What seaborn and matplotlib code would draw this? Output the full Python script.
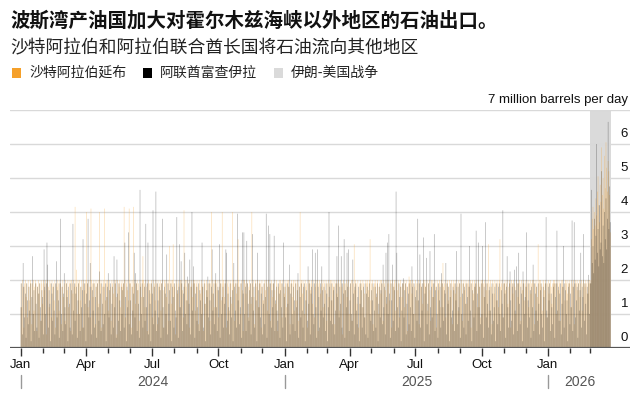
import numpy as np
import pandas as pd
import matplotlib.pyplot as plt
import seaborn as sns
from matplotlib.patches import Rectangle
from matplotlib.transforms import blended_transform_factory

# daily exports, million barrels per day, from 2024-01-01 (10 days per row)
start_date = '2024-01-01'
war_start = '2026-03-01'

yanbu = [
    1.9, 1.2, 2.0, 1.8, 0.6, 1.9, 2.0, 1.5, 1.9, 0.9,
    2.0, 1.8, 1.4, 2.0, 1.9, 0.7, 1.9, 2.0, 1.1, 1.8,
    2.0, 1.9, 0.5, 1.8, 2.0, 1.6, 1.9, 0.8, 2.0, 1.9,
    1.3, 2.0, 1.9, 1.7, 2.0, 0.4, 1.9, 2.0, 1.8, 1.2,
    2.0, 1.9, 0.9, 2.0, 1.8, 1.9, 1.4, 2.0, 0.6, 1.9,
    1.8, 2.0, 1.9, 1.1, 2.0, 1.9, 0.7, 1.8, 2.0, 1.5,
    1.9, 0.8, 2.0, 1.9, 1.7, 2.0, 1.2, 1.9, 2.0, 0.5,
    2.0, 1.9, 1.6, 2.0, 1.8, 4.15, 1.9, 2.3, 1.0, 2.0,
    1.9, 2.0, 1.4, 1.8, 2.0, 0.6, 1.9, 2.0, 1.7, 1.9,
    2.0, 4.0, 1.9, 1.2, 2.0, 1.8, 0.9, 4.1, 2.0, 1.9,
    1.5, 2.0, 1.9, 0.7, 2.0, 1.8, 1.9, 2.0, 1.3, 4.0,
    1.9, 2.0, 0.6, 1.8, 2.0, 1.9, 4.1, 1.4, 2.0, 1.9,
    2.0, 1.1, 1.9, 2.0, 1.8, 0.8, 2.0, 1.9, 1.6, 2.0,
    1.9, 2.0, 1.5, 0.4, 2.0, 1.9, 1.8, 2.0, 1.2, 1.9,
    2.0, 1.8, 1.9, 4.15, 2.0, 0.9, 1.9, 2.0, 1.7, 1.4,
    4.1, 2.0, 1.9, 0.6, 2.0, 1.8, 4.15, 1.9, 2.0, 1.3,
    1.9, 2.0, 1.7, 1.9, 0.8, 2.0, 1.9, 1.5, 2.0, 2.7,
    2.0, 1.9, 1.2, 2.0, 1.8, 0.5, 1.9, 2.0, 1.9, 1.6,
    1.9, 2.0, 0.9, 1.8, 2.0, 1.9, 1.4, 2.0, 1.9, 0.7,
    2.0, 1.8, 1.9, 2.0, 1.1, 1.9, 2.0, 1.7, 0.6, 2.0,
    1.9, 2.0, 1.5, 1.9, 2.0, 0.8, 3.0, 1.9, 2.0, 1.3,
    2.0, 3.05, 1.9, 1.8, 0.4, 2.0, 1.9, 1.6, 2.0, 1.9,
    1.2, 2.0, 1.9, 2.0, 1.7, 0.9, 4.05, 1.9, 2.0, 1.8,
    2.0, 1.4, 1.9, 2.0, 0.6, 1.8, 2.0, 1.9, 1.5, 2.0,
    1.9, 2.0, 1.1, 1.9, 2.0, 1.8, 0.7, 2.0, 1.9, 1.6,
    2.0, 1.9, 1.8, 0.5, 2.0, 1.9, 1.3, 2.0, 1.9, 1.7,
    1.9, 2.0, 0.8, 1.9, 4.0, 1.6, 2.0, 1.9, 1.2, 2.0,
    2.0, 1.9, 1.7, 2.0, 0.9, 1.8, 2.0, 1.9, 1.4, 4.0,
    1.9, 2.0, 1.5, 1.9, 2.0, 0.6, 1.9, 2.0, 1.8, 1.1,
    2.0, 1.9, 1.3, 4.0, 1.9, 2.0, 0.8, 1.9, 2.0, 1.6,
    1.9, 3.2, 2.0, 1.8, 1.0, 1.9, 2.0, 1.7, 0.5, 2.0,
    2.0, 1.9, 1.6, 2.0, 1.9, 0.9, 1.8, 2.0, 1.9, 1.3,
    4.0, 1.9, 2.0, 1.5, 0.7, 2.0, 1.9, 1.8, 2.0, 1.2,
    1.9, 2.0, 1.9, 0.6, 2.0, 1.8, 1.4, 1.9, 2.0, 1.7,
    2.0, 1.9, 1.1, 2.0, 1.8, 1.9, 0.8, 2.0, 1.9, 1.5,
    1.9, 2.0, 1.7, 1.3, 2.0, 1.9, 0.5, 1.8, 2.0, 1.9,
    2.0, 1.9, 0.9, 2.0, 1.8, 1.6, 2.0, 1.9, 1.2, 2.0,
    1.9, 2.0, 1.8, 0.7, 1.9, 2.0, 1.5, 1.9, 2.0, 1.1,
    2.0, 1.9, 1.4, 2.0, 1.9, 0.8, 1.8, 4.0, 1.9, 2.0,
    1.6, 2.0, 1.9, 1.0, 2.0, 1.8, 1.9, 0.6, 2.0, 1.9,
    2.0, 1.7, 1.9, 2.0, 1.3, 1.9, 2.0, 0.9, 1.8, 2.0,
    1.9, 2.0, 0.5, 1.9, 2.0, 1.6, 1.8, 2.0, 1.9, 1.2,
    2.0, 1.9, 1.7, 2.0, 0.8, 1.9, 2.0, 1.5, 1.9, 2.0,
    1.4, 2.0, 1.9, 1.8, 2.0, 0.7, 1.9, 2.0, 1.6, 1.9,
    2.0, 1.9, 1.1, 2.0, 1.9, 1.8, 0.4, 2.0, 1.9, 1.7,
    1.9, 2.0, 1.5, 1.9, 2.0, 1.0, 1.8, 1.9, 2.0, 0.8,
    2.0, 1.9, 3.05, 1.7, 2.0, 1.9, 1.3, 2.0, 0.6, 1.9,
    1.8, 2.0, 1.9, 1.2, 2.0, 1.9, 1.6, 0.9, 2.0, 1.9,
    2.0, 1.9, 1.7, 2.0, 3.2, 1.4, 1.9, 2.0, 0.7, 1.8,
    1.9, 2.0, 1.9, 1.5, 2.0, 1.8, 1.0, 1.9, 2.0, 1.6,
    2.0, 1.9, 0.8, 2.0, 1.9, 1.7, 2.0, 1.3, 1.9, 2.0,
    1.9, 1.4, 2.0, 1.9, 0.6, 2.0, 1.8, 1.9, 2.0, 1.1,
    2.0, 1.9, 1.7, 2.0, 1.9, 0.9, 2.0, 1.8, 1.5, 1.9,
    1.9, 2.0, 1.2, 1.9, 2.0, 1.8, 0.5, 1.9, 2.1, 2.0,
    2.0, 1.9, 1.6, 2.0, 1.9, 1.0, 1.8, 2.0, 1.9, 1.4,
    1.9, 2.0, 0.7, 1.9, 2.0, 1.8, 1.9, 1.3, 2.0, 1.9,
    2.0, 1.8, 1.9, 2.0, 1.1, 1.9, 2.0, 1.7, 0.8, 2.0,
    1.9, 2.0, 1.5, 1.9, 2.0, 1.8, 0.6, 2.0, 1.9, 1.7,
    2.0, 1.9, 1.2, 2.0, 1.9, 2.5, 1.8, 1.9, 2.0, 0.9,
    1.9, 2.0, 1.8, 1.4, 2.0, 1.9, 1.7, 2.0, 0.7, 1.9,
    2.0, 1.9, 1.6, 2.0, 1.8, 1.9, 1.1, 2.0, 1.9, 1.5,
    1.9, 2.0, 0.8, 1.9, 2.0, 1.7, 1.9, 2.0, 1.3, 1.9,
    2.0, 1.9, 1.8, 2.0, 0.6, 1.9, 2.0, 1.6, 1.9, 2.0,
    1.8, 2.0, 1.9, 1.2, 2.0, 1.9, 1.8, 0.9, 2.0, 1.9,
    2.0, 1.9, 1.5, 2.0, 1.9, 1.7, 2.0, 1.9, 3.05, 1.1,
    1.9, 2.0, 1.8, 0.7, 2.0, 1.9, 1.6, 2.0, 1.9, 1.4,
    2.0, 1.9, 1.2, 2.0, 3.2, 1.8, 1.9, 2.0, 0.9, 1.9,
    1.9, 2.0, 1.7, 1.9, 2.0, 1.3, 1.8, 2.0, 1.9, 0.6,
    2.0, 1.9, 1.6, 2.0, 1.9, 1.8, 1.0, 2.0, 1.9, 1.5,
    1.9, 2.0, 1.9, 0.8, 2.0, 1.7, 1.9, 2.0, 1.4, 1.9,
    2.0, 1.8, 1.9, 2.0, 1.2, 1.9, 2.0, 1.6, 1.9, 2.0,
    1.9, 2.0, 0.7, 1.9, 2.0, 1.8, 1.5, 3.05, 1.9, 2.0,
    2.0, 1.9, 1.8, 1.1, 2.0, 1.9, 1.7, 2.0, 1.9, 0.9,
    1.9, 2.0, 1.6, 1.9, 2.0, 1.8, 1.3, 1.9, 2.0, 1.9,
    2.0, 1.9, 1.0, 2.0, 1.9, 1.7, 2.0, 1.9, 0.8, 2.0,
    1.9, 2.0, 1.8, 1.9, 1.4, 2.0, 1.9, 2.0, 1.6, 1.9,
    2.0, 1.9, 1.2, 2.0, 1.9, 1.8, 2.0, 0.7, 1.9, 2.0,
    1.9, 2.0, 1.7, 1.9, 2.0, 1.5, 1.9, 2.0, 1.1, 1.9,
    2.0, 1.9, 1.8, 2.0, 1.9, 1.6, 2.0, 1.9, 2.0, 1.9,
    2.0, 3.2, 3.8, 4.15, 3.5, 4.0, 3.6, 4.4, 3.9, 4.6,
    5.05, 4.2, 3.7, 4.8, 4.3, 5.9, 4.5, 5.0, 4.1, 5.65,
    4.7, 6.05, 5.3, 4.6, 5.5, 5.2, 4.5, 3.4,
]

fujairah = [
    1.2, 1.9, 0.4, 2.5, 1.8, 0.9, 1.6, 0.3, 1.9, 1.4,
    0.7, 1.8, 1.1, 1.9, 0.2, 1.5, 2.7, 1.0, 1.7, 0.5,
    1.9, 1.3, 0.6, 1.8, 1.6, 0.3, 1.9, 1.2, 0.8, 1.7,
    1.5, 0.4, 2.9, 1.8, 1.0, 1.9, 3.1, 2.45, 0.6, 1.7,
    1.3, 0.2, 1.9, 1.6, 0.8, 1.8, 1.1, 0.4, 1.9, 2.55,
    0.9, 1.7, 1.4, 0.3, 1.9, 3.8, 1.0, 1.8, 0.5, 1.6,
    2.2, 1.2, 0.7, 1.9, 1.5, 0.2, 1.8, 1.3, 0.6, 1.9,
    1.7, 0.4, 3.65, 1.1, 1.9, 0.8, 1.6, 1.8, 0.3, 1.4,
    1.9, 1.0, 0.5, 1.8, 1.2, 1.7, 3.2, 0.6, 1.9, 1.3,
    0.2, 1.6, 1.9, 3.8, 0.9, 1.4, 2.5, 1.8, 0.4, 1.7,
    1.1, 1.9, 0.6, 1.5, 1.8, 0.3, 1.9, 1.2, 0.8, 2.25,
    1.6, 0.5, 1.9, 1.3, 0.7, 1.8, 1.0, 1.9, 0.2, 1.5,
    1.8, 2.2, 0.9, 1.7, 1.9, 0.4, 1.3, 1.8, 0.6, 2.7,
    1.2, 1.9, 0.3, 2.6, 1.6, 0.8, 1.9, 1.4, 0.5, 1.8,
    1.0, 1.7, 1.9, 0.6, 3.1, 1.5, 0.2, 1.8, 1.2, 3.4,
    0.7, 1.9, 1.4, 0.4, 1.8, 1.1, 1.6, 2.8, 0.9, 2.2,
    1.9, 0.5, 1.7, 1.3, 0.3, 4.65, 1.8, 1.0, 1.9, 0.6,
    1.5, 1.8, 0.8, 3.65, 1.2, 1.9, 3.1, 0.4, 1.7, 1.3,
    0.2, 1.9, 1.6, 4.05, 0.7, 1.8, 1.1, 4.6, 0.5, 1.9,
    1.4, 0.9, 1.8, 1.7, 0.3, 1.9, 3.8, 1.2, 0.6, 1.8,
    1.6, 1.0, 2.75, 0.4, 1.9, 1.3, 1.7, 0.8, 1.9, 0.2,
    1.8, 1.5, 0.6, 1.9, 1.1, 0.9, 3.85, 1.7, 0.3, 1.8,
    3.05, 1.2, 2.55, 1.9, 0.5, 1.6, 1.8, 2.8, 1.0, 1.4,
    0.7, 2.1, 1.9, 1.3, 2.6, 0.4, 1.8, 4.0, 1.1, 2.4,
    1.9, 0.3, 1.6, 1.8, 0.8, 1.2, 1.9, 0.5, 1.7, 1.4,
    1.0, 3.1, 1.8, 0.6, 1.9, 1.3, 0.2, 1.7, 1.5, 2.1,
    0.9, 1.9, 1.4, 0.4, 1.8, 2.9, 1.1, 1.6, 0.7, 1.9,
    2.2, 1.2, 0.5, 1.8, 1.7, 3.05, 0.3, 1.9, 1.0, 1.5,
    1.8, 0.6, 1.3, 1.9, 2.9, 2.8, 0.8, 1.6, 1.2, 0.4,
    1.9, 1.5, 0.9, 1.7, 0.2, 2.5, 1.8, 1.1, 1.9, 0.6,
    3.95, 1.4, 1.8, 0.7, 1.2, 1.9, 0.3, 3.4, 1.6, 3.4,
    1.0, 1.8, 0.5, 3.15, 1.9, 1.3, 0.8, 1.7, 1.9, 0.4,
    1.5, 3.35, 1.1, 1.8, 0.6, 1.9, 1.4, 0.2, 2.8, 1.7,
    1.2, 1.9, 0.9, 1.6, 1.8, 0.4, 1.3, 1.9, 0.7, 1.5,
    3.95, 0.3, 1.8, 3.6, 1.0, 3.35, 1.9, 0.6, 1.7, 1.2,
    1.9, 3.3, 0.5, 1.4, 1.8, 1.1, 0.8, 1.9, 1.6, 0.3,
    1.7, 1.2, 1.9, 0.6, 3.1, 1.5, 1.8, 0.9, 0.2, 1.9,
    1.3, 1.8, 2.45, 0.4, 1.6, 1.9, 1.0, 0.7, 1.8, 1.4,
    0.5, 1.9, 1.2, 1.7, 2.2, 0.3, 1.8, 1.5, 0.9, 1.9,
    1.1, 0.6, 1.8, 1.9, 0.2, 1.4, 1.7, 0.8, 2.4, 1.3,
    1.9, 0.4, 1.6, 1.8, 2.9, 1.0, 0.7, 1.9, 2.8, 1.2,
    0.3, 2.9, 1.8, 1.5, 0.6, 1.9, 1.1, 2.4, 1.7, 0.9,
    1.8, 1.3, 0.5, 1.9, 1.6, 0.2, 1.2, 4.0, 1.8, 0.8,
    1.9, 1.4, 0.7, 1.7, 1.8, 0.4, 1.1, 1.9, 2.7, 1.5,
    3.6, 0.9, 1.8, 1.3, 2.7, 0.6, 1.9, 1.6, 3.2, 0.3,
    1.7, 1.2, 2.8, 1.8, 2.9, 0.5, 1.4, 1.9, 1.0, 0.8,
    2.6, 1.6, 0.4, 1.8, 1.9, 1.1, 0.7, 1.5, 1.8, 0.2,
    1.3, 1.9, 1.7, 0.6, 1.2, 1.8, 0.9, 1.9, 0.4, 1.6,
    1.8, 0.3, 1.5, 1.9, 1.0, 0.8, 1.7, 1.4, 1.9, 0.5,
    1.1, 1.8, 0.6, 1.6, 1.9, 0.2, 1.3, 1.8, 0.9, 1.7,
    1.9, 0.7, 2.45, 1.2, 1.8, 0.4, 2.8, 1.5, 3.1, 1.0,
    3.35, 1.6, 0.3, 1.9, 1.4, 2.45, 0.8, 1.8, 1.7, 0.5,
    4.6, 2.8, 1.2, 0.6, 1.9, 1.5, 1.8, 0.2, 1.1, 1.9,
    2.05, 0.9, 1.7, 1.9, 0.4, 1.3, 1.8, 1.6, 0.7, 1.9,
    1.2, 0.5, 2.4, 1.8, 1.0, 1.9, 0.3, 1.5, 1.7, 0.8,
    3.8, 1.4, 1.9, 2.75, 0.6, 1.8, 1.1, 1.9, 3.25, 0.2,
    1.6, 1.8, 2.65, 0.7, 1.3, 1.9, 0.4, 2.85, 1.2, 1.8,
    0.9, 1.5, 1.9, 3.35, 0.5, 1.7, 1.8, 1.0, 0.3, 1.9,
    1.4, 1.8, 0.6, 2.2, 1.9, 1.2, 0.8, 1.7, 1.6, 2.5,
    0.4, 1.9, 1.3, 1.8, 0.2, 1.5, 1.9, 0.9, 1.1, 1.8,
    1.7, 0.5, 1.9, 1.4, 2.85, 0.7, 1.8, 1.2, 1.9, 0.3,
    3.95, 1.0, 1.6, 1.9, 0.6, 1.8, 1.3, 0.4, 1.9, 1.5,
    0.8, 1.8, 3.0, 1.1, 1.9, 0.2, 1.7, 1.4, 0.9, 1.8,
    1.9, 3.45, 0.5, 1.6, 3.1, 1.2, 1.8, 0.7, 1.9, 1.0,
    3.0, 0.3, 1.8, 1.5, 3.7, 0.9, 1.9, 1.3, 0.6, 1.7,
    1.8, 1.1, 0.4, 1.9, 1.6, 0.8, 1.2, 1.8, 0.2, 1.9,
    1.4, 0.7, 1.8, 1.9, 1.0, 0.5, 1.7, 1.3, 4.05, 0.9,
    1.9, 1.6, 0.3, 1.8, 2.7, 1.2, 0.6, 1.9, 2.25, 1.4,
    0.8, 1.8, 1.9, 0.4, 2.3, 1.1, 1.7, 2.4, 0.5, 1.9,
    2.8, 1.3, 0.7, 1.8, 1.6, 0.2, 2.25, 1.9, 1.0, 1.5,
    1.8, 3.4, 0.6, 1.4, 1.9, 0.9, 1.7, 0.3, 1.8, 1.2,
    2.45, 0.5, 1.9, 1.6, 1.1, 1.8, 0.8, 1.9, 1.3, 0.4,
    1.7, 1.9, 1.0, 0.6, 1.8, 1.5, 0.2, 1.9, 3.85, 1.1,
    0.9, 1.8, 1.4, 1.9, 0.5, 1.6, 1.2, 0.7, 1.8, 1.9,
    0.3, 1.5, 1.9, 3.45, 1.1, 1.8, 0.8, 1.6, 1.9, 0.4,
    1.3, 1.8, 3.0, 0.6, 1.9, 1.7, 1.0, 1.4, 0.2, 1.8,
    1.9, 0.7, 1.6, 1.2, 3.75, 0.5, 1.8, 3.7, 1.9, 0.9,
    1.4, 1.8, 0.3, 1.9, 1.1, 1.7, 2.8, 0.6, 1.8, 1.5,
    3.35, 0.8, 1.9, 1.3, 0.4, 1.8, 1.6, 2.15, 1.0, 1.9,
    1.9, 4.65, 2.5, 3.0, 2.2, 3.8, 2.6, 3.3, 6.0, 2.8,
    3.5, 2.4, 4.2, 2.9, 3.1, 5.2, 2.7, 3.6, 2.5, 4.0,
    3.2, 4.4, 2.9, 3.8, 6.65, 3.5, 4.75, 3.7,
]

month_names = ['Jan', 'Apr', 'Jul', 'Oct']
year_labels = ['2024', '2025', '2026']

title = '波斯湾产油国加大对霍尔木兹海峡以外地区的石油出口。'
subtitle = '沙特阿拉伯和阿拉伯联合酋长国将石油流向其他地区'
legend_labels = ['沙特阿拉伯延布', '阿联酋富查伊拉', '伊朗-美国战争']

ORANGE = '#f5a02a'
DARK = '#000000'
WAR = '#dadada'

dates = pd.date_range(start_date, periods=len(yanbu), freq='D')
df = pd.DataFrame({'day': np.arange(len(dates)), 'yanbu': yanbu, 'fujairah': fujairah})

sns.set_theme(style='white')
plt.rcParams['font.family'] = ['Liberation Sans', 'Noto Sans CJK SC', 'DejaVu Sans']

fig = plt.figure(figsize=(6.41, 3.97), dpi=100)
ax = fig.add_axes([10 / 641, 49 / 397, 620 / 641, 238 / 397])

# war shading behind the bars
war_day = (pd.Timestamp(war_start) - dates[0]).days
ax.axvspan(war_day - 0.5, len(dates) - 0.5, color=WAR, lw=0, zorder=0)

# no pixel snapping: ~0.7 px per day, let the bars blend
sns.barplot(data=df, x='day', y='yanbu', native_scale=True, width=0.9,
            color=ORANGE, saturation=1, alpha=0.36, linewidth=0, snap=False,
            errorbar=None, ax=ax, zorder=2)
sns.barplot(data=df, x='day', y='fujairah', native_scale=True, width=0.9,
            color=DARK, saturation=1, alpha=0.32, linewidth=0, snap=False,
            errorbar=None, ax=ax, zorder=3)

ax.set_xlim((10 - 21) / 0.7213, (630 - 21) / 0.7213)
ax.set_ylim(0, 7)
ax.set_xlabel('')
ax.set_ylabel('')
for s in ax.spines.values():
    s.set_visible(False)

# y grid + labels sitting on the right, above each line
ax.set_yticks(range(8))
ax.yaxis.grid(True, color='#d9d9d9', lw=1)
ax.set_axisbelow(True)
ax.tick_params(axis='y', length=0, labelleft=False, labelright=False)
ytrans = ax.get_yaxis_transform()
for v in range(8):
    lab = '7 million barrels per day' if v == 7 else str(v)
    ax.text(0.997, v + 0.12, lab, transform=ytrans, ha='right', va='bottom',
            fontsize=9.5, color='#111')
ax.axhline(0, color='#555555', lw=1.6, zorder=5)

# month ticks
months = pd.date_range(start_date, dates[-1], freq='MS')
mpos = np.array((months - dates[0]).days) - 0.5
quarter = months.month.isin([1, 4, 7, 10])
ax.set_xticks(mpos[quarter])
ax.set_xticklabels([month_names[(m - 1) // 3] for m in months.month[quarter]])
ax.set_xticks(mpos[~quarter], minor=True)
ax.tick_params(axis='x', which='major', bottom=True, length=6, width=1,
               color='#333', labelsize=9.5, labelcolor='#111', pad=2)
ax.tick_params(axis='x', which='minor', bottom=True, length=3.5, width=1, color='#333')

# year row
btrans = blended_transform_factory(ax.transData, ax.transAxes)
ystarts = [0, 366, 731]
yends = [366, 731, len(dates)]
for y0, y1, lab in zip(ystarts, yends, year_labels):
    ax.plot([y0 - 0.5, y0 - 0.5], [-0.115, -0.17], transform=btrans,
            color='#999999', lw=1, clip_on=False)
    ax.text((y0 + y1) / 2, -0.143, lab, transform=btrans, ha='center', va='center',
            fontsize=10, color='#555555')

# titles
fig.text(10 / 641, 1 - 21 / 397, title, fontsize=14, weight='bold',
         family='Noto Sans CJK SC', ha='left', va='center', color='#111')
fig.text(10 / 641, 1 - 48 / 397, subtitle, fontsize=12.8,
         family='Noto Sans CJK SC', ha='left', va='center', color='#222')

# legend
sq = 9
for x0, col, lab in zip([12, 143, 274], [ORANGE, DARK, WAR], legend_labels):
    fig.patches.append(Rectangle((x0 / 641, 1 - (73 + sq / 2) / 397), sq / 641, sq / 397,
                                 transform=fig.transFigure, color=col, lw=0))
    fig.text((x0 + 17) / 641, 1 - 73 / 397, lab, fontsize=10,
             family=['Noto Sans CJK SC', 'DejaVu Sans'], ha='left', va='center', color='#222')

fig.savefig('out.png', dpi=100)
